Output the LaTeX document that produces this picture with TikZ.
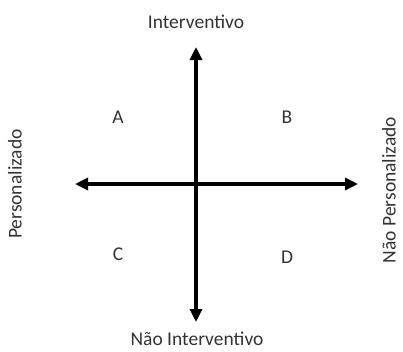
\documentclass[tikz,border=0pt]{standalone}
\usepackage{fontspec}
\setmainfont{Carlito}
\usetikzlibrary{arrows.meta}

\begin{document}
\begin{tikzpicture}[
  x=1pt, y=-1pt,
  font=\fontsize{19.5}{23}\selectfont,
  lbl/.style={inner sep=0pt, text=black!80},
  axis/.style={-{Triangle[length=13pt,width=12pt]}, line width=4pt}
]
\useasboundingbox (0,0) rectangle (403,351);

% Centre and arrow ends
\coordinate (o) at (196,184);
\coordinate (top) at (196,47);
\coordinate (bot) at (196,322);
\coordinate (lft) at (75,184);
\coordinate (rgt) at (358,184);

% Axes
\draw[axis] (o) -- (top);
\draw[axis] (o) -- (bot);
\draw[axis] (o) -- (lft);
\draw[axis] (o) -- (rgt);

% Axis labels
\node[lbl] (interv) at (196,22) {Interventivo};
\node[lbl] (ninterv) at (197,339) {Não Interventivo};
\node[lbl, rotate=90] (pers) at (15,184) {Personalizado};
\node[lbl, rotate=90] (npers) at (389,190) {Não Personalizado};

% Quadrants
\node[lbl] (qa) at (118,117) {A};
\node[lbl] (qb) at (287,117) {B};
\node[lbl] (qc) at (118,254) {C};
\node[lbl] (qd) at (287,257) {D};
\end{tikzpicture}
\end{document}
